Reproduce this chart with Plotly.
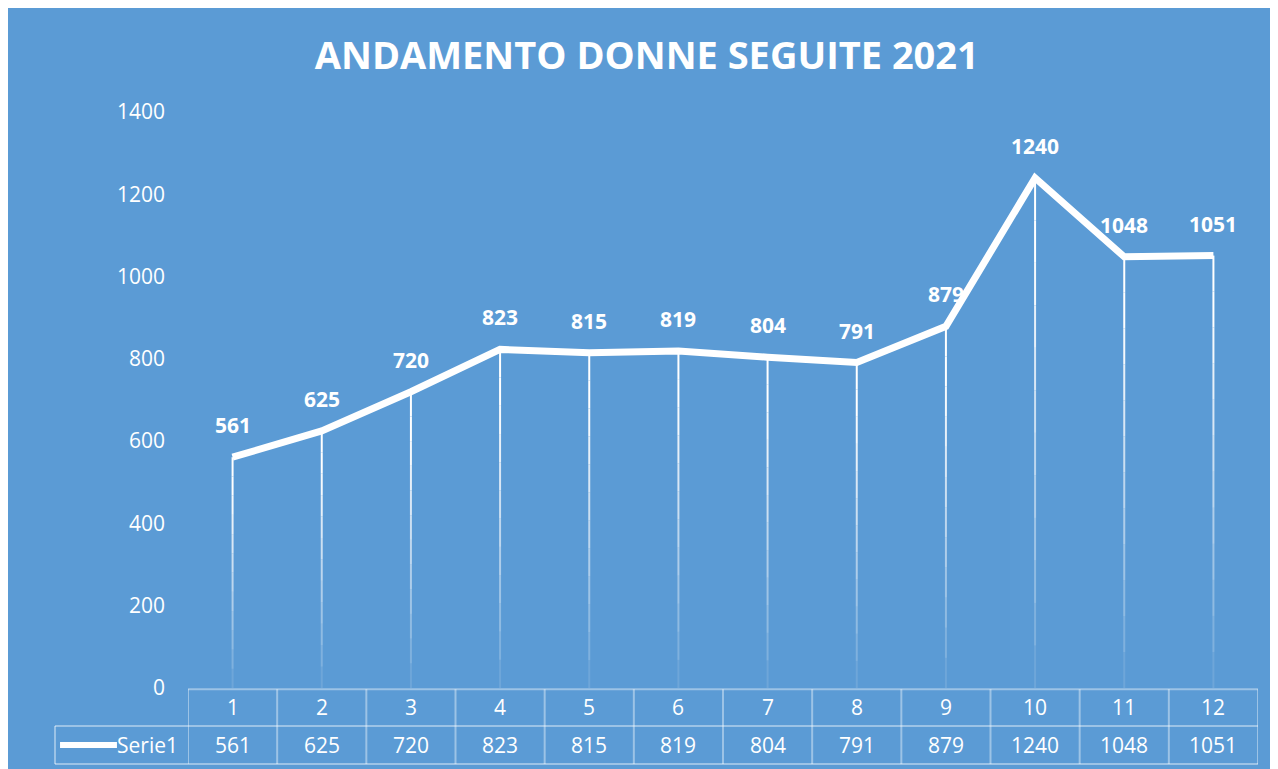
import plotly.graph_objects as go

# data
months = [1, 2, 3, 4, 5, 6, 7, 8, 9, 10, 11, 12]
seguite = [561, 625, 720, 823, 815, 819, 804, 791, 879, 1240, 1048, 1051]
series_name = "Serie1"
chart_title = "ANDAMENTO DONNE SEGUITE 2021"

BG = "#5B9BD5"
GRID = "rgba(255,255,255,0.4)"
FONT = "Open Sans"

fig = go.Figure()

# drop lines, faded towards the axis
n_bands = 12
for k in range(n_bands):
    xs, ys = [], []
    for m, v in zip(months, seguite):
        xs += [m, m, None]
        ys += [v * k / n_bands, v * (k + 1) / n_bands, None]
    f = (k + 0.5) / n_bands
    fig.add_trace(
        go.Scatter(
            x=xs,
            y=ys,
            mode="lines",
            line=dict(color="white", width=2),
            opacity=min(1.0, 0.05 + 1.1 * f ** 0.9),
            hoverinfo="skip",
            showlegend=False,
        )
    )

fig.add_trace(
    go.Scatter(
        x=months,
        y=seguite,
        mode="lines",
        name=series_name,
        line=dict(color="white", width=7),
        showlegend=False,
    )
)

# data labels above the points
annotations = [
    dict(
        x=m,
        y=v,
        text=str(v),
        showarrow=False,
        yshift=32,
        font=dict(family=FONT, size=21, color="white", weight="bold"),
    )
    for m, v in zip(months, seguite)
]

# data table under the axis
row1_y = -0.033
row2_y = -0.099
cell_font = dict(family=FONT, size=21, color="white")
for m, v in zip(months, seguite):
    annotations.append(
        dict(x=m, y=row1_y, yref="paper", text=str(m), showarrow=False,
             xanchor="center", yanchor="middle", font=cell_font)
    )
    annotations.append(
        dict(x=m, y=row2_y, yref="paper", text=str(v), showarrow=False,
             xanchor="center", yanchor="middle", font=cell_font)
    )
annotations.append(
    dict(x=-0.0075, xref="paper", y=row2_y, yref="paper", text=series_name,
         xanchor="right", yanchor="middle", showarrow=False, font=cell_font)
)

shapes = [
    # table horizontal borders
    dict(type="line", xref="x", yref="paper", x0=0.5, x1=12.5, y0=-0.002, y1=-0.002,
         line=dict(color=GRID, width=2)),
    dict(type="line", xref="paper", yref="paper", x0=-0.1243, x1=1.0, y0=-0.066, y1=-0.066,
         line=dict(color=GRID, width=2)),
    dict(type="line", xref="paper", yref="paper", x0=-0.1243, x1=1.0, y0=-0.132, y1=-0.132,
         line=dict(color=GRID, width=2)),
    dict(type="line", xref="paper", yref="paper", x0=-0.1243, x1=-0.1243, y0=-0.066, y1=-0.132,
         line=dict(color=GRID, width=2)),
    # legend key
    dict(type="line", xref="paper", yref="paper", x0=-0.1196, x1=-0.0664, y0=row2_y, y1=row2_y,
         line=dict(color="white", width=6)),
]
for b in [m - 0.5 for m in months] + [months[-1] + 0.5]:
    shapes.append(
        dict(type="line", xref="x", yref="paper", x0=b, x1=b, y0=-0.002, y1=-0.132,
             line=dict(color=GRID, width=2))
    )

fig.update_layout(
    width=1270,
    height=761,
    paper_bgcolor=BG,
    plot_bgcolor=BG,
    margin=dict(l=180, r=20, t=104, b=81),
    title=dict(
        text=chart_title,
        x=0.503,
        xanchor="center",
        y=0.937,
        yanchor="middle",
        font=dict(family=FONT, size=38, color="white", weight="bold"),
    ),
    xaxis=dict(
        range=[0.5, 12.5],
        showticklabels=False,
        showgrid=False,
        zeroline=False,
        showline=False,
    ),
    yaxis=dict(
        range=[0, 1400],
        dtick=200,
        showgrid=False,
        zeroline=False,
        showline=False,
        ticklabelstandoff=22,
        tickfont=dict(family=FONT, size=21, color="white"),
    ),
    annotations=annotations,
    shapes=shapes,
)

fig.write_html("out.html")
